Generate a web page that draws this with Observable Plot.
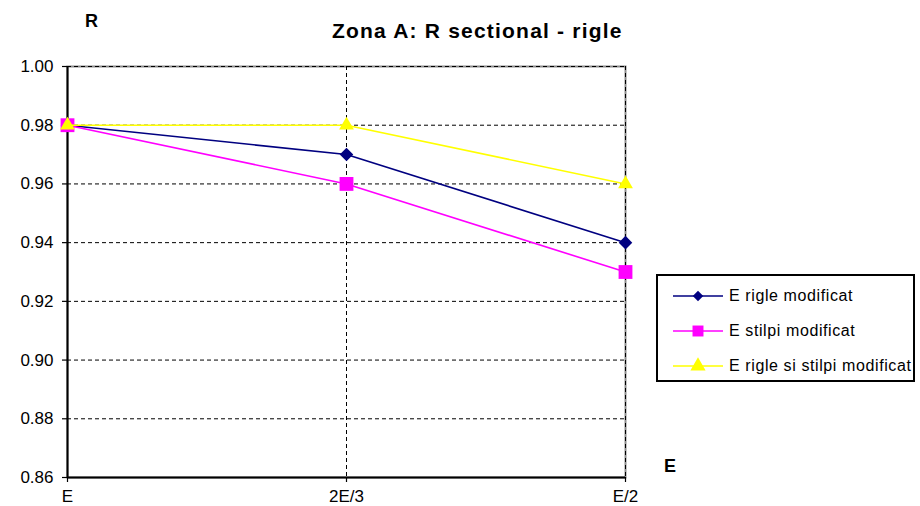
<!DOCTYPE html>
<html>
<head>
<meta charset="utf-8">
<script src="https://cdn.jsdelivr.net/npm/d3@7"></script>
<script src="https://cdn.jsdelivr.net/npm/@observablehq/plot@0.6"></script>
<style>
  html, body { margin: 0; padding: 0; background: #fff; }
  body { font-family: "Liberation Sans", Arial, sans-serif; }
  #wrap { position: relative; width: 920px; height: 506px; overflow: hidden; }
  #wrap svg.plot { position: absolute; left: 0; top: 0; }
  .lbl { position: absolute; white-space: nowrap; color: #000; line-height: 1; }
  #title { left: 332px; top: 20px; font-size: 21px; font-weight: bold; letter-spacing: 1.2px; }
  #ylab { left: 85px; top: 12px; font-size: 18px; font-weight: bold; }
  #xlab { left: 664px; top: 457px; font-size: 18px; font-weight: bold; }
  #legend { position: absolute; left: 656px; top: 274px; width: 259px; height: 108px;
            border: 2px solid #000; box-sizing: border-box; background: #fff; }
  #legend .row { position: absolute; left: 15px; height: 20px; display: flex; align-items: center; }
  #legend svg { display: block; }
  #legend span { font-size: 16px; letter-spacing: 0.6px; margin-left: 4px; }
</style>
</head>
<body>
<div id="wrap">
  <div id="title" class="lbl">Zona A: R sectional - rigle</div>
  <div id="ylab" class="lbl">R</div>
  <div id="xlab" class="lbl">E</div>
  <div id="legend"></div>
</div>
<script>
// Categories along the horizontal axis
const categories = ["E", "2E/3", "E/2"];

// Series names (legend entries)
const seriesNames = ["E rigle modificat", "E stilpi modificat", "E rigle si stilpi modificat"];

// R values per series, one per category
const rigleValues = [0.98, 0.97, 0.94];
const stilpiValues = [0.98, 0.96, 0.93];
const rigleStilpiValues = [0.98, 0.98, 0.96];

// Vertical axis tick values
const yTicks = [0.86, 0.88, 0.90, 0.92, 0.94, 0.96, 0.98, 1.00];

// Series styling
const seriesColors = ["#000080", "#FF00FF", "#FFFF00"];
const seriesSymbols = ["diamond2", "square", "triangle"];
const seriesRadius = [6.1, 7.8, 5.5];

const seriesValues = [rigleValues, stilpiValues, rigleStilpiValues];
const rows = seriesNames.flatMap((name, s) =>
  categories.map((cat, i) => ({ series: name, s, cat, r: seriesValues[s][i] }))
);

const dash = { stroke: "#000", strokeOpacity: 1, strokeWidth: 1, strokeDasharray: "4,3" };

const marks = [
  Plot.frame({ stroke: "#8c8c8c", strokeWidth: 2 }),
  Plot.gridY(yTicks.slice(1), dash),
  Plot.gridX(categories.slice(1), dash),
  Plot.ruleX([categories[0]], { stroke: "#000", strokeWidth: 2 }),
  Plot.ruleY([yTicks[0]], { stroke: "#000", strokeWidth: 2 }),
  Plot.axisY({
    ticks: yTicks, tickFormat: d3.format(".2f"), tickSize: 5, tickPadding: 9,
    fontSize: 17, stroke: "#000", strokeWidth: 1.2, label: null
  }),
  Plot.axisX({
    tickSize: 5, tickPadding: 7, fontSize: 17, stroke: "#000", strokeWidth: 1.2, label: null
  })
];

seriesNames.forEach((name, s) => {
  const data = rows.filter(d => d.s === s);
  marks.push(Plot.line(data, { x: "cat", y: "r", stroke: seriesColors[s], strokeWidth: 1.6 }));
  marks.push(Plot.dot(data, {
    x: "cat", y: "r", symbol: () => seriesSymbols[s], r: seriesRadius[s],
    fill: seriesColors[s], stroke: "none"
  }));
});

const chart = Plot.plot({
  width: 920,
  height: 506,
  marginLeft: 67,
  marginRight: 295,
  marginTop: 66,
  marginBottom: 29,
  style: { fontFamily: "'Liberation Sans', Arial, sans-serif", background: "transparent", overflow: "visible" },
  x: { type: "point", domain: categories, padding: 0, label: null },
  y: { domain: [yTicks[0], yTicks[yTicks.length - 1]], label: null },
  symbol: { type: "identity" },
  marks
});
chart.classList.add("plot");
document.getElementById("wrap").insertBefore(chart, document.getElementById("title"));

// Legend: short line with the series marker, followed by its name
const legend = d3.select("#legend");
const symbolGen = { diamond2: d3.symbolDiamond2, square: d3.symbolSquare, triangle: d3.symbolTriangle };
const legendSizes = [70, 120, 100];
seriesNames.forEach((name, s) => {
  const row = legend.append("div").attr("class", "row").style("top", (10 + s * 35) + "px");
  const svg = row.append("svg").attr("width", 52).attr("height", 20);
  svg.append("line").attr("x1", 0).attr("x2", 50).attr("y1", 10).attr("y2", 10)
    .attr("stroke", seriesColors[s]).attr("stroke-width", 1.6);
  svg.append("path").attr("transform", "translate(25,10)")
    .attr("d", d3.symbol(symbolGen[seriesSymbols[s]], legendSizes[s])())
    .attr("fill", seriesColors[s]);
  row.append("span").text(name);
});
</script>
</body>
</html>
